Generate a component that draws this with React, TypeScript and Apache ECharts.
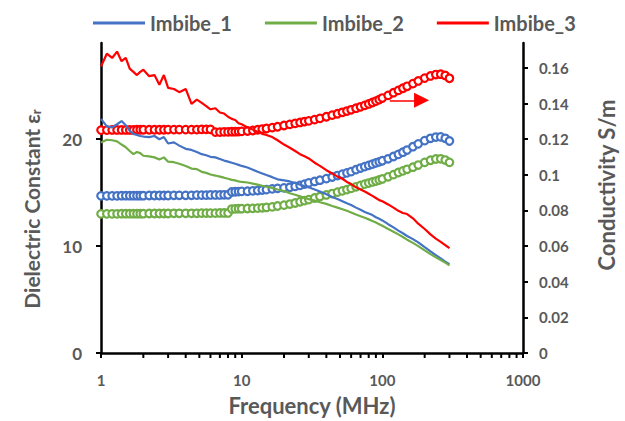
import React, { useEffect, useRef } from "react";
import * as echarts from "echarts";

// Frequency (MHz) shared by all series
const freqMHz = [
  1, 1.1, 1.2, 1.3, 1.4, 1.5, 1.6, 1.7, 1.8, 1.9,
  2, 2.2, 2.4, 2.6, 2.8, 3, 3.3, 3.6, 4, 4.4,
  4.8, 5.2, 5.6, 6, 6.5, 7, 7.5, 8, 8.5, 9,
  9.5, 10, 11, 12, 13, 14, 15, 16.5, 18, 20,
  22, 24, 26, 28, 30, 33, 36, 40, 44, 48,
  52, 56, 60, 65, 70, 75, 80, 85, 90, 95,
  100, 110, 120, 130, 140, 150, 165, 180, 200, 220,
  240, 260, 280, 300,
];

// Dielectric constant (left axis)
const epsImbibe1 = [
  21.9, 21.2, 21.1, 21.4, 21.7, 21.3, 20.8, 20.5, 20.4, 20.3,
  20.25, 20.2, 20.3, 20.0, 20.2, 19.6, 19.7, 19.4, 19.1, 19.0,
  18.8, 18.6, 18.5, 18.35, 18.3, 18.15, 18.0, 17.9, 17.8, 17.7,
  17.6, 17.5, 17.35, 17.15, 16.95, 16.8, 16.65, 16.45, 16.25, 16.15,
  16.05, 15.9, 15.75, 15.6, 15.5, 15.3, 15.1, 14.85, 14.6, 14.4,
  14.2, 14.0, 13.85, 13.6, 13.4, 13.2, 13.05, 12.9, 12.7, 12.55,
  12.4, 12.05, 11.75, 11.45, 11.2, 10.95, 10.65, 10.35, 9.9, 9.5,
  9.15, 8.85, 8.55, 8.3,
];
const epsImbibe2 = [
  19.7, 19.95, 19.9, 19.8, 19.5, 19.25, 18.9, 18.6, 18.8, 18.7,
  18.45, 18.4, 18.3, 18.1, 18.3, 17.9, 17.85, 17.7, 17.5, 17.25,
  17.2, 16.95, 16.85, 16.7, 16.6, 16.5, 16.4, 16.3, 16.2, 16.15,
  16.05, 16.0, 15.95, 15.85, 15.75, 15.65, 15.55, 15.45, 15.3, 15.15,
  14.95, 14.8, 14.65, 14.5, 14.4, 14.25, 14.1, 13.95, 13.75, 13.6,
  13.45, 13.3, 13.15, 12.95, 12.8, 12.65, 12.5, 12.35, 12.2, 12.05,
  11.9, 11.6, 11.35, 11.1, 10.85, 10.6, 10.3, 10.0, 9.6, 9.25,
  8.95, 8.7, 8.45, 8.2,
];
const epsImbibe3 = [
  26.8, 28.0, 27.6, 28.2, 27.3, 27.6, 26.6, 26.3, 26.0, 26.3,
  26.5, 25.9, 26.0, 25.1, 26.0, 24.8, 24.7, 24.4, 24.7, 23.3,
  23.7, 23.4, 23.1, 22.8, 22.9, 22.5, 22.4, 22.1, 21.9, 21.8,
  21.5, 21.4, 21.1, 20.9, 20.7, 20.5, 20.4, 20.2, 19.9, 19.5,
  19.2, 18.9, 18.6, 18.4, 18.2, 17.8, 17.5, 17.1, 16.8, 16.5,
  16.3, 16.0, 15.8, 15.5, 15.3, 15.1, 14.9, 14.7, 14.5, 14.3,
  14.2, 13.9, 13.6, 13.3, 13.1, 13.0, 12.6, 12.1, 11.6, 11.1,
  10.7, 10.4, 10.1, 9.8,
];

// Conductivity S/m (right axis)
const sigImbibe1 = [
  0.0882, 0.0882, 0.0882, 0.0882, 0.0883, 0.0883, 0.0883, 0.0883, 0.0883, 0.0883,
  0.0883, 0.0884, 0.0884, 0.0884, 0.0884, 0.0884, 0.0885, 0.0885, 0.0885, 0.0885,
  0.0886, 0.0886, 0.0886, 0.0887, 0.0887, 0.0887, 0.0888, 0.0888, 0.0904, 0.0905,
  0.0906, 0.0907, 0.0908, 0.091, 0.0912, 0.0915, 0.0917, 0.0921, 0.0924, 0.0927,
  0.093, 0.0935, 0.0941, 0.0948, 0.0955, 0.0963, 0.097, 0.0979, 0.0988, 0.0996,
  0.1004, 0.1011, 0.1018, 0.1029, 0.1038, 0.1046, 0.1053, 0.106, 0.1067, 0.1073,
  0.1079, 0.109, 0.1103, 0.1115, 0.1127, 0.1139, 0.1158, 0.1174, 0.1192, 0.1205,
  0.1212, 0.1213, 0.1205, 0.119,
];
const sigImbibe2 = [
  0.0781, 0.0781, 0.0781, 0.0781, 0.0782, 0.0782, 0.0782, 0.0782, 0.0782, 0.0782,
  0.0782, 0.0783, 0.0783, 0.0783, 0.0783, 0.0783, 0.0784, 0.0784, 0.0784, 0.0784,
  0.0784, 0.0785, 0.0785, 0.0785, 0.0785, 0.0786, 0.0786, 0.0786, 0.0808, 0.0809,
  0.081, 0.081, 0.0811, 0.0812, 0.0813, 0.0815, 0.0817, 0.082, 0.0825, 0.083,
  0.0836, 0.0842, 0.0849, 0.0855, 0.0861, 0.087, 0.0878, 0.0887, 0.0895, 0.0903,
  0.091, 0.0917, 0.0924, 0.0933, 0.0941, 0.0948, 0.0954, 0.096, 0.0965, 0.0971,
  0.0977, 0.0989, 0.1001, 0.1013, 0.1022, 0.1031, 0.1043, 0.1055, 0.107, 0.1082,
  0.1089, 0.109, 0.1083, 0.107,
];
const sigImbibe3 = [
  0.1251, 0.1251, 0.1252, 0.1252, 0.1252, 0.1252, 0.1252, 0.1252, 0.1253, 0.1253,
  0.1253, 0.1253, 0.1253, 0.1253, 0.1253, 0.1254, 0.1254, 0.1254, 0.1254, 0.1254,
  0.1254, 0.1255, 0.1255, 0.1255, 0.124, 0.124, 0.1241, 0.1241, 0.1242, 0.1242,
  0.1243, 0.1244, 0.1246, 0.1249, 0.1253, 0.1257, 0.126, 0.1265, 0.127, 0.1277,
  0.1283, 0.1289, 0.1294, 0.1299, 0.1303, 0.131, 0.1317, 0.1326, 0.1335, 0.1343,
  0.1351, 0.1358, 0.1365, 0.1374, 0.1382, 0.139, 0.1398, 0.1406, 0.1414, 0.1422,
  0.1431, 0.1446, 0.1461, 0.1474, 0.1486, 0.1497, 0.1512, 0.1527, 0.1543, 0.1555,
  0.1563, 0.1565, 0.1558, 0.1542,
];

const seriesNames = ["Imbibe_1", "Imbibe_2", "Imbibe_3"];
const seriesColors = ["#4472C4", "#70AD47", "#FF0000"];

const leftTicks = [0, 10, 20];
const rightTicks = [0, 0.02, 0.04, 0.06, 0.08, 0.1, 0.12, 0.14, 0.16];
const xMinorTicks = [2, 3, 4, 5, 6, 7, 8, 9, 20, 30, 40, 50, 60, 70, 80, 90, 200, 300, 400, 500, 600, 700, 800, 900];

const LEFT_MAX = 29;
const RIGHT_MAX = 0.174;

// Arrow annotation (frequency MHz, conductivity S/m) pointing to right axis
const arrowStartMHz = 113;
const arrowEndMHz = 190;
const arrowSigma = 0.1418;

const GRAY = "#595959";
const FONT = 'Lato, "Open Sans", "DejaVu Sans", sans-serif';

export default function App() {
  const ref = useRef<HTMLDivElement>(null);

  useEffect(() => {
    if (!ref.current) return;
    const chart = echarts.init(ref.current, undefined, { renderer: "svg" });

    const epsList = [epsImbibe1, epsImbibe2, epsImbibe3];
    const sigList = [sigImbibe1, sigImbibe2, sigImbibe3];

    // arrow expressed on the left axis scale (both axes share the plot height)
    const arrowY = (arrowSigma * LEFT_MAX) / RIGHT_MAX;

    const scatterSeries = sigList.map((sig, k) => ({
      name: "σ " + seriesNames[k],
      type: "scatter",
      xAxisIndex: 0,
      yAxisIndex: 1,
      symbol: "circle",
      symbolSize: 7.5,
      z: 2,
      silent: true,
      itemStyle: { color: "#ffffff", borderColor: seriesColors[k], borderWidth: 2.2, opacity: 1 },
      data: freqMHz.map((f, i) => [f, sig[i]]),
    }));

    const lineSeries = epsList.map((eps, k) => ({
      name: seriesNames[k],
      type: "line",
      xAxisIndex: 0,
      yAxisIndex: 0,
      showSymbol: false,
      symbol: "none",
      z: 3,
      silent: true,
      color: seriesColors[k],
      itemStyle: { color: seriesColors[k] },
      lineStyle: { color: seriesColors[k], width: 2.2 },
      data: freqMHz.map((f, i) => [f, eps[i]]),
      ...(k === 2
        ? {
            markLine: {
              silent: true,
              symbol: ["none", "triangle"],
              symbolSize: 15,
              label: { show: false },
              emphasis: { disabled: true },
              itemStyle: { color: "#FF0000" },
              lineStyle: { color: "#FF0000", width: 1.5, type: "solid" },
              data: [[{ coord: [arrowStartMHz, arrowY] }, { coord: [arrowEndMHz, arrowY] }]],
            },
          }
        : {}),
    }));

    const minorTickSeries = {
      type: "custom",
      xAxisIndex: 0,
      yAxisIndex: 0,
      silent: true,
      clip: false,
      z: 10,
      data: xMinorTicks.map((v) => [v, 0]),
      renderItem: (_params: any, api: any) => {
        const p = api.coord([api.value(0), api.value(1)]);
        return {
          type: "line",
          shape: { x1: p[0], y1: p[1], x2: p[0], y2: p[1] + 5 },
          style: { stroke: "#000", lineWidth: 2 },
        };
      },
    };

    const axisTitle = { fontFamily: FONT, fontSize: 22, fontWeight: "bold", color: GRAY };
    const tickLabel = { fontFamily: FONT, fontSize: 16, fontWeight: "bold", color: GRAY };

    chart.setOption({
      animation: false,
      textStyle: { fontFamily: FONT },
      legend: {
        data: seriesNames,
        top: 8,
        left: 88,
        itemGap: 33,
        itemWidth: 52,
        itemHeight: 3,
        icon: "rect",
        textStyle: { fontFamily: FONT, fontSize: 20, fontWeight: "bold", color: GRAY },
      },
      grid: { left: 101, right: 100, top: 43, bottom: 66 },
      xAxis: {
        type: "log",
        logBase: 10,
        min: 1,
        max: 1000,
        name: "Frequency (MHz)",
        nameLocation: "middle",
        nameGap: 41,
        nameTextStyle: axisTitle,
        axisLine: { lineStyle: { color: "#000", width: 2.5 } },
        axisTick: { length: 5, lineStyle: { color: "#000", width: 2 } },
        axisLabel: { ...tickLabel, fontSize: 15, margin: 19, formatter: (v: number) => String(Math.round(v)) },
        splitLine: { show: false },
        minorTick: { show: false },
      },
      yAxis: [
        {
          type: "value",
          position: "left",
          min: 0,
          max: LEFT_MAX,
          name: "Dielectric Constant ε{sub|r}",
          nameLocation: "middle",
          nameGap: 59,
          nameTextStyle: {
            ...axisTitle,
            fontSize: 21,
            padding: [0, 22, 0, 0],
            rich: {
              sub: { fontFamily: FONT, fontSize: 13, fontWeight: "bold", color: GRAY, verticalAlign: "bottom", lineHeight: 13, padding: [8, 0, 0, 0] },
            },
          },
          axisLine: { show: true, lineStyle: { color: "#000", width: 2.5 } },
          axisTick: { show: true, length: 5, customValues: leftTicks, lineStyle: { color: "#000", width: 2 } },
          axisLabel: { ...tickLabel, fontSize: 17, margin: 19, customValues: leftTicks },
          splitLine: { show: false },
        },
        {
          type: "value",
          position: "right",
          min: 0,
          max: RIGHT_MAX,
          name: "Conductivity S/m",
          nameLocation: "middle",
          nameGap: 72,
          nameTextStyle: { ...axisTitle, padding: [0, 0, 0, 26] },
          axisLine: { show: true, lineStyle: { color: "#000", width: 2.5 } },
          axisTick: { show: true, length: 5, customValues: rightTicks, lineStyle: { color: "#000", width: 2 } },
          axisLabel: { ...tickLabel, fontSize: 15, margin: 16, customValues: rightTicks },
          splitLine: { show: false },
        },
      ],
      series: [...scatterSeries, ...lineSeries, minorTickSeries],
    });

    return () => chart.dispose();
  }, []);

  return (
    <div
      ref={ref}
      style={{ position: "absolute", left: 0, top: 0, width: 625, height: 421, background: "#fff" }}
    />
  );
}
